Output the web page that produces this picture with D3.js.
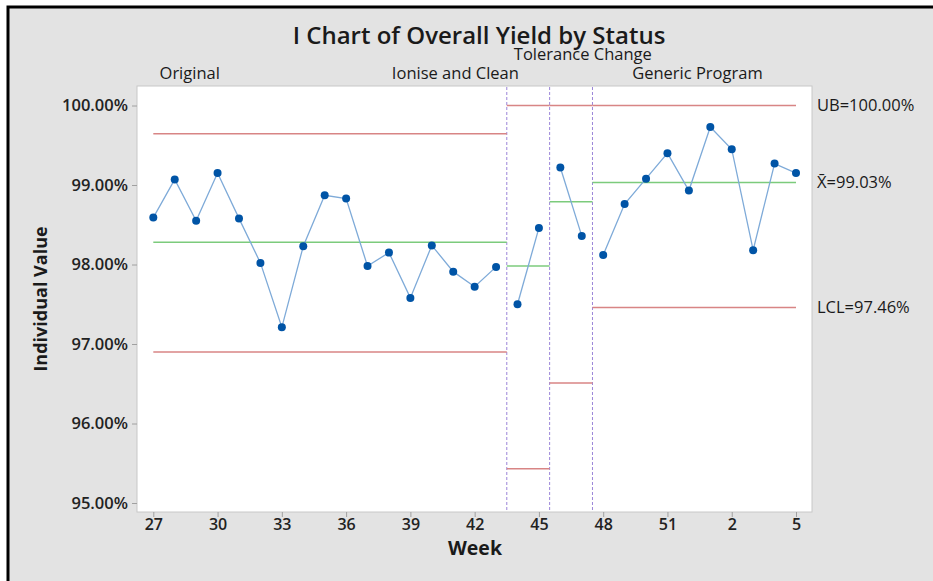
<!DOCTYPE html>
<html>
<head>
<meta charset="utf-8">
<script src="https://cdn.jsdelivr.net/npm/d3@7"></script>
<style>
  body { margin: 0; background: #fff; }
  text { font-family: "Open Sans", "Noto Sans", sans-serif; fill: #1a1a1a; }
</style>
</head>
<body>
<div id="chart"></div>
<script>
// weekly yield, one point per week
var weeks = [27,28,29,30,31,32,33,34,35,36,37,38,39,40,41,42,43,44,45,46,47,48,49,50,51,52,1,2,3,4,5];
var yieldPct = [98.59,99.07,98.55,99.15,98.58,98.02,97.21,98.23,98.87,98.83,97.98,98.15,97.58,98.24,97.91,97.72,97.97,
                97.50,98.46,
                99.22,98.36,
                98.12,98.76,99.08,99.40,98.93,99.73,99.45,98.18,99.27,99.15];

// stages
var stageNames = ["Original","Ionise and Clean","Tolerance Change","Generic Program"];
var stageSizes = [17,2,2,10];
var stageMean = [98.28,97.98,98.79,99.03];
var stageUpper = [99.645,100,100,100];
var stageLower = [96.90,95.43,96.51,97.46];

var yTicks = [95,96,97,98,99,100];
var xTickIdx = [0,3,6,9,12,15,18,21,24,27,30];

var W = 933, H = 581;
var svg = d3.select("#chart").append("svg")
	.attr("width", W)
	.attr("height", H);

// frame
svg.append("rect")
	.attr("x", 8).attr("y", 7)
	.attr("width", W - 8).attr("height", H - 7)
	.style("fill", "#e3e3e3");
svg.append("path")
	.attr("d", "M8," + H + "V7H" + W)
	.style("fill", "none")
	.style("stroke", "#000")
	.style("stroke-width", 3);

var plot = {left: 137, right: 812, top: 86, bottom: 512};

svg.append("rect")
	.attr("x", plot.left).attr("y", plot.top)
	.attr("width", plot.right - plot.left)
	.attr("height", plot.bottom - plot.top)
	.style("fill", "#fff")
	.style("stroke", "#c8c8c8");

var x = d3.scaleLinear().domain([0, weeks.length - 1]).range([153.3, 796]);
var y = d3.scaleLinear().domain([95, 100]).range([503, 105.5]);

// y axis
var yAxis = svg.append("g")
	.attr("transform", "translate(" + plot.left + ",0)")
	.call(d3.axisLeft(y).tickValues(yTicks).tickSize(5).tickPadding(4)
		.tickFormat(function(d){ return d3.format(".2f")(d) + "%"; }));
yAxis.select(".domain").remove();
yAxis.selectAll("line").style("stroke", "#a0a0a0");
yAxis.selectAll("text").style("font-size", "16.5px").style("font-weight", 600).style("fill", "#222");

// x axis
var xAxis = svg.append("g")
	.attr("transform", "translate(0," + plot.bottom + ")")
	.call(d3.axisBottom(x).tickValues(xTickIdx).tickSize(5).tickPadding(2)
		.tickFormat(function(i){ return weeks[i]; }));
xAxis.select(".domain").remove();
xAxis.selectAll("line").style("stroke", "#a0a0a0");
xAxis.selectAll("text").style("font-size", "16px").style("font-weight", 600).style("fill", "#222");

// stage boundaries
var starts = [];
var s = 0;
stageSizes.forEach(function(n){ starts.push(s); s += n; });

var stages = stageNames.map(function(name, k){
	var a = starts[k], b = starts[k] + stageSizes[k] - 1;
	return {
		name: name,
		from: k == 0 ? a : a - 0.5,
		to: k == stageNames.length - 1 ? b : b + 0.5,
		pts: d3.range(a, b + 1).map(function(i){ return {i: i, v: yieldPct[i]}; }),
		mean: stageMean[k], ucl: stageUpper[k], lcl: stageLower[k]
	};
});

// dashed dividers
stages.slice(1).forEach(function(st){
	svg.append("line")
		.attr("x1", x(st.from)).attr("x2", x(st.from))
		.attr("y1", plot.top + 1).attr("y2", plot.bottom - 1)
		.style("stroke", "#9b85d8")
		.style("stroke-width", 1)
		.style("stroke-dasharray", "3,2");
});

// limits and center lines
stages.forEach(function(st){
	[st.ucl, st.lcl].forEach(function(v){
		svg.append("line")
			.attr("x1", x(st.from)).attr("x2", x(st.to))
			.attr("y1", y(v)).attr("y2", y(v))
			.style("stroke", "#d88585").style("stroke-width", 1.5);
	});
	svg.append("line")
		.attr("x1", x(st.from)).attr("x2", x(st.to))
		.attr("y1", y(st.mean)).attr("y2", y(st.mean))
		.style("stroke", "#7ccb7c").style("stroke-width", 1.5);
});

var valueline = d3.line()
	.x(function(d){ return x(d.i); })
	.y(function(d){ return y(d.v); });

stages.forEach(function(st){
	svg.append("path")
		.datum(st.pts)
		.attr("d", valueline)
		.style("fill", "none")
		.style("stroke", "#7eaad8")
		.style("stroke-width", 1.3);
	svg.selectAll(null)
		.data(st.pts)
		.enter().append("circle")
		.attr("cx", function(d){ return x(d.i); })
		.attr("cy", function(d){ return y(d.v); })
		.attr("r", 4)
		.style("fill", "#0054a6");
});

// stage labels (Minitab-ish placement)
var labelIdx = [1.7, 14.1, 20.05, 25.4];
var labelY = [79, 79, 60, 79];
stages.forEach(function(st, k){
	svg.append("text")
		.attr("x", x(labelIdx[k]))
		.attr("y", labelY[k])
		.attr("text-anchor", "middle")
		.style("font-size", "16.5px")
		.text(st.name);
});

// right side labels for last stage
var last = stages[stages.length - 1];
var rlabels = [
	{v: last.ucl, t: "UB=" + d3.format(".2f")(last.ucl) + "%"},
	{v: last.mean, t: "X\u0304=" + d3.format(".2f")(last.mean) + "%"},
	{v: last.lcl, t: "LCL=" + d3.format(".2f")(last.lcl) + "%"}
];
rlabels.forEach(function(r){
	svg.append("text")
		.attr("x", 817)
		.attr("y", y(r.v))
		.attr("dy", "0.35em")
		.style("font-size", "16.5px")
		.text(r.t);
});

// titles
svg.append("text")
	.attr("x", 479)
	.attr("y", 44)
	.attr("text-anchor", "middle")
	.style("font-size", "24px")
	.style("font-weight", 600)
	.text("I Chart of Overall Yield by Status");

svg.append("text")
	.attr("transform", "rotate(-90)")
	.attr("x", -299)
	.attr("y", 47)
	.attr("text-anchor", "middle")
	.style("font-size", "18px")
	.style("font-weight", 700)
	.text("Individual Value");

svg.append("text")
	.attr("x", 475)
	.attr("y", 555)
	.attr("text-anchor", "middle")
	.style("font-size", "19.5px")
	.style("font-weight", 700)
	.text("Week");
</script>
</body>
</html>
